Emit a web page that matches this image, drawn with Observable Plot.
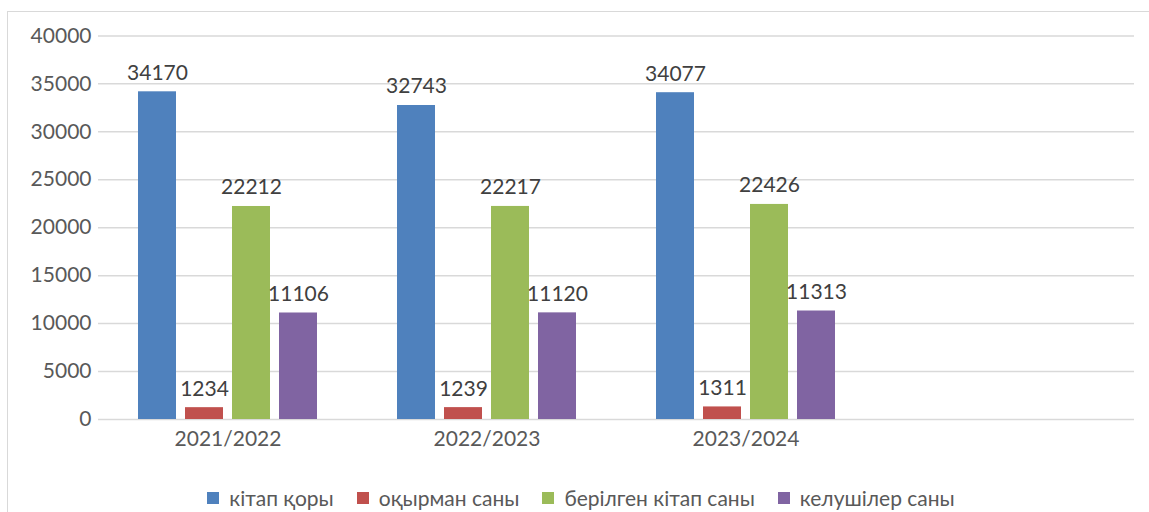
<!DOCTYPE html>
<html>
<head>
<meta charset="utf-8">
<script src="https://cdn.jsdelivr.net/npm/d3@7"></script>
<script src="https://cdn.jsdelivr.net/npm/@observablehq/plot@0.6"></script>
<style>
  html, body { margin: 0; padding: 0; background: #fff; }
  body { width: 1149px; height: 512px; overflow: hidden; position: relative; font-family: Lato, "Open Sans", sans-serif; }
  #frame { position: absolute; left: 7px; top: 11px; width: 1160px; height: 520px; border-left: 1.5px solid #d9d9d9; border-top: 1.5px solid #d9d9d9; box-sizing: border-box; }
  #chart { position: absolute; left: 0; top: 0; }
  #legend { position: absolute; left: 7px; width: 1148px; top: 485px; display: flex; justify-content: center; gap: 23px; font-size: 21px; color: #595959; }
  .item { display: flex; align-items: center; }
  .sw { width: 12px; height: 12px; margin-right: 10px; display: inline-block; }
</style>
</head>
<body>
<div id="frame"></div>
<div id="chart"></div>
<div id="legend"></div>
<script>
const years = ["2021/2022", "2022/2023", "2023/2024"];
const slots = ["2021/2022", "2022/2023", "2023/2024", " "];
const seriesNames = ["кітап қоры", "оқырман саны", "берілген кітап саны", "келушілер саны"];
const colors = ["#4F81BD", "#C0504D", "#9BBB59", "#8064A2"];
const kitapQory = [34170, 32743, 34077];
const oqyrmanSany = [1234, 1239, 1311];
const berilgenKitap = [22212, 22217, 22426];
const kelushiler = [11106, 11120, 11313];
const yTicks = [0, 5000, 10000, 15000, 20000, 25000, 30000, 35000, 40000];

const seriesValues = [kitapQory, oqyrmanSany, berilgenKitap, kelushiler];
const data = [];
years.forEach((yr, i) => {
  seriesNames.forEach((s, j) => {
    data.push({year: yr, series: s, value: seriesValues[j][i]});
  });
});
const gridData = [];
slots.forEach(sl => yTicks.forEach(t => gridData.push({year: sl, y: t})));

const chart = Plot.plot({
  width: 1149,
  height: 470,
  marginLeft: 97,
  marginRight: 15,
  marginTop: 35.4,
  marginBottom: 51,
  style: {fontFamily: "Lato, 'Open Sans', sans-serif", fontSize: "21px", color: "#595959", background: "transparent"},
  fx: {domain: slots, paddingInner: 0, paddingOuter: 0, label: null, tickSize: 0, tickPadding: 12},
  x: {domain: seriesNames, paddingInner: 0.2, paddingOuter: 0.847, axis: null},
  y: {domain: [0, 40000], ticks: yTicks, tickSize: 0, tickPadding: 7, label: null, tickFormat: d => String(d)},
  color: {domain: seriesNames, range: colors},
  marks: [
    Plot.ruleY(gridData, {fx: "year", y: "y", stroke: "#d9d9d9", strokeWidth: 1.5}),
    Plot.barY(data, {fx: "year", x: "series", y: "value", fill: "series"}),
    Plot.text(data, {fx: "year", x: "series", y: "value", text: d => String(d.value), lineAnchor: "bottom", dy: -12, fill: "#404040", fontSize: 21})
  ]
});
document.getElementById("chart").appendChild(chart);

const legend = document.getElementById("legend");
seriesNames.forEach((s, i) => {
  const it = document.createElement("div");
  it.className = "item";
  const sw = document.createElement("span");
  sw.className = "sw";
  sw.style.background = colors[i];
  it.appendChild(sw);
  it.appendChild(document.createTextNode(s));
  legend.appendChild(it);
});
</script>
</body>
</html>
